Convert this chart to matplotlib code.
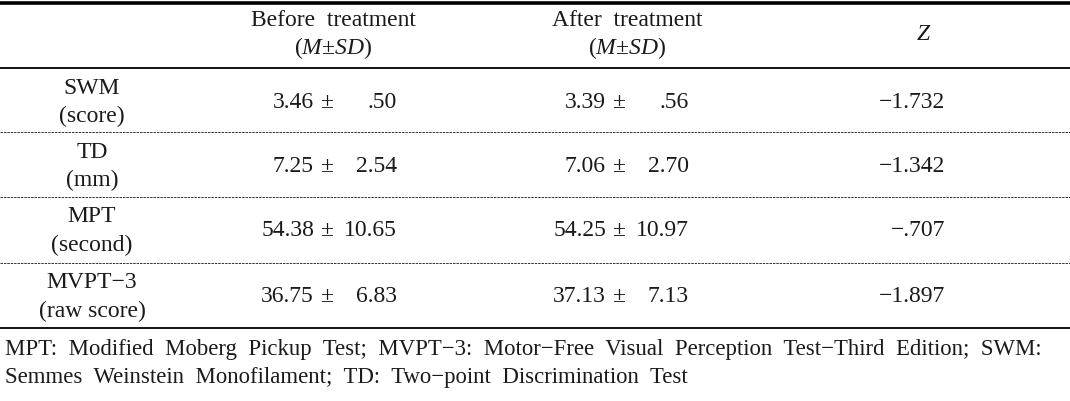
import matplotlib
matplotlib.use('Agg')
import matplotlib.pyplot as plt

# table data
measures = ["SWM", "TD", "MPT", "MVPT\u22123"]
units = ["(score)", "(mm)", "(second)", "(raw score)"]
before_mean = [3.46, 7.25, 54.38, 36.75]
before_sd = [0.50, 2.54, 10.65, 6.83]
after_mean = [3.39, 7.06, 54.25, 37.13]
after_sd = [0.56, 2.70, 10.97, 7.13]
z_values = [-1.732, -1.342, -0.707, -1.897]
headers = ["Before  treatment", "After  treatment"]
footnote = ["MPT:  Modified  Moberg  Pickup  Test;  MVPT\u22123:  Motor\u2212Free  Visual  Perception  Test\u2212Third  Edition;  SWM:",
            "Semmes  Weinstein  Monofilament;  TD:  Two\u2212point  Discrimination  Test"]

plt.rcParams['font.family'] = ['Liberation Serif', 'DejaVu Serif']
plt.rcParams['mathtext.fontset'] = 'custom'
plt.rcParams['mathtext.rm'] = 'Liberation Serif'
plt.rcParams['mathtext.it'] = 'Liberation Serif:italic'


def fmt_sd(v):
    s = f"{v:.2f}"
    return s[1:] if s.startswith("0") else s


def fmt_z(v):
    s = f"{abs(v):.3f}"
    if s.startswith("0"):
        s = s[1:]
    return ("\u2212" if v < 0 else "") + s


fig = plt.figure(figsize=(10.7, 4.01), dpi=100)
ax = fig.add_axes([0, 0, 1, 1])
ax.set_xlim(0, 1070)
ax.set_ylim(401, 0)
ax.axis('off')

fs = 17
k = dict(fontsize=fs, color='#1a1a1a', va='center')

# rules
ax.plot([0, 1070], [3, 3], color='black', lw=2.6)
ax.plot([0, 1070], [68, 68], color='black', lw=1.3)
ax.plot([0, 1070], [328, 328], color='black', lw=1.3)
for y in [132, 197, 263]:
    ax.plot([0, 1070], [y, y], color='#333333', lw=0.7, ls=(0, (2.5, 1)))

# header
col_before, col_after, col_z = 333, 627, 923
for x, h in zip([col_before, col_after], headers):
    ax.text(x, 21, h, ha='center', **k)
    ax.text(x, 48, r"($\it{M}$" + "\u00b1" + r"$\it{SD}$)", ha='center', **k)
ax.text(col_z, 34, "Z", ha='center', style='italic', **k)

row_y = [102, 166, 231, 297]
for i, y in enumerate(row_y):
    ax.text(92, y - 14, measures[i], ha='center', **k)
    ax.text(92, y + 14, units[i], ha='center', **k)
    for mx, means, sds in [(314, before_mean, before_sd), (606, after_mean, after_sd)]:
        ax.text(mx, y, f"{means[i]:.2f}", ha='right', **k)
        ax.text(mx + 13, y, "\u00b1", ha='center', **k)
        ax.text(mx + 83, y, fmt_sd(sds[i]), ha='right', **k)
    ax.text(945, y, fmt_z(z_values[i]), ha='right', **k)

fk = dict(k, fontsize=16.4)
ax.text(5, 349, footnote[0], ha='left', **fk)
ax.text(5, 378, footnote[1], ha='left', **fk)

fig.savefig('out.png', dpi=100, facecolor='white')
